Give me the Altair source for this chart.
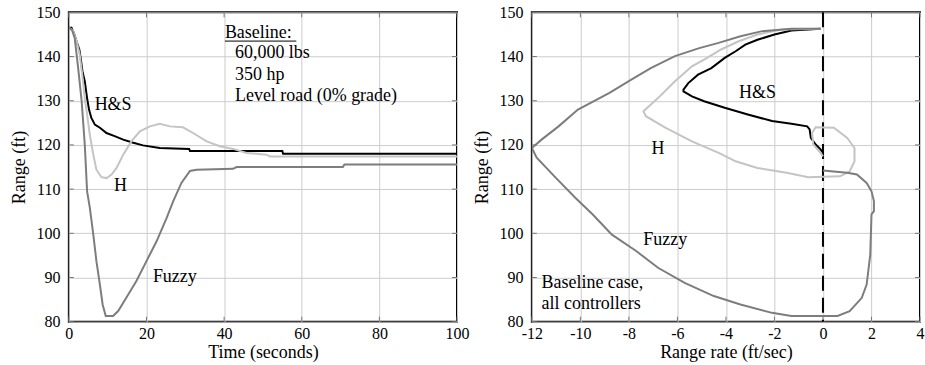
import altair as alt
import pandas as pd

# ---------------- Left panel: Range vs Time ----------------
hs_t = [0, 0.7, 1.3, 2.0, 2.7, 3.1, 3.5, 4.1, 4.7, 5.2, 5.8, 6.7, 8.0, 9.7, 11.8, 14.0, 16.6, 19.1, 23.4, 31.0, 31.2, 42.3, 55.0, 55.2, 100]
hs_r = [146.5, 146.5, 145.3, 143.4, 141.6, 139.3, 136.7, 134.4, 130.6, 128.0, 126.1, 124.6, 123.9, 122.7, 122.0, 121.2, 120.5, 119.9, 119.3, 119.1, 118.6, 118.6, 118.6, 118.0, 118.0]

h_t = [0, 1.0, 2.0, 2.8, 3.5, 4.1, 4.7, 5.4, 6.3, 7.1, 8.4, 9.7, 11.0, 12.3, 14.0, 16.1, 18.3, 20.9, 23.4, 26.0, 29.4, 32.0, 35.5, 38.9, 42.3, 45.8, 50.9, 51.8, 100]
h_r = [146.5, 146.0, 143.5, 140.4, 135.5, 130.6, 126.9, 122.3, 117.8, 114.4, 112.7, 112.5, 113.3, 114.8, 117.8, 120.8, 123.1, 124.2, 124.8, 124.2, 124.0, 122.7, 120.8, 119.7, 119.1, 118.2, 117.8, 117.4, 117.4]

fz_t = [0, 0.8, 1.5, 2.4, 3.3, 4.1, 4.7, 5.4, 6.3, 7.1, 8.0, 8.7, 9.5, 11.4, 12.7, 14.8, 17.4, 20.0, 22.6, 25.2, 26.9, 29.0, 31.2, 32.9, 42.3, 43.2, 70.6, 71.0, 100]
fz_r = [146.5, 146.0, 144.2, 137.4, 129.9, 120.1, 109.5, 105.8, 99.7, 93.7, 88.4, 83.9, 81.3, 81.3, 82.4, 85.4, 89.2, 93.7, 98.2, 103.5, 107.3, 111.4, 114.1, 114.4, 114.6, 115.0, 115.0, 115.6, 115.6]

# ---------------- Right panel: Range vs Range rate ----------------
hs_rr = [-0.1, -1.3, -2.0, -2.7, -3.2, -3.6, -4.05, -4.6, -5.15, -5.55, -5.75, -5.75, -5.4, -4.9, -4.05, -3.1, -2.1, -1.3, -0.65, -0.55, -0.5, -0.3, -0.1, 0.0]
hs_rg = [146.3, 145.9, 145.0, 143.8, 142.7, 141.2, 139.7, 137.4, 135.9, 134.0, 132.5, 132.1, 131.0, 129.9, 128.4, 126.9, 125.4, 124.8, 124.2, 123.5, 121.6, 120.1, 119.0, 118.2]

h_rr = [-0.1, -1.7, -2.7, -3.5, -4.2, -4.9, -5.4, -6.1, -6.8, -7.4, -7.3, -6.5, -5.4, -4.3, -3.6, -2.7, -1.5, -0.6, 0.7, 1.1, 1.3, 1.3, 1.0, 0.45, -0.3, -0.45, -0.4, -0.1, 0.0]
h_rg = [146.3, 146.1, 145.0, 143.4, 141.6, 139.3, 137.8, 134.4, 130.6, 127.6, 126.5, 123.9, 120.8, 118.2, 116.3, 114.8, 113.7, 112.7, 112.9, 114.0, 116.3, 119.3, 121.6, 123.9, 124.0, 122.7, 120.1, 118.2, 117.4]

fz_rr = [-0.1, -1.3, -2.55, -3.4, -4.3, -5.1, -6.1, -7.1, -7.9, -8.8, -10.1, -10.9, -11.6, -12.0, -11.8, -11.0, -10.2, -9.5, -8.7, -7.7, -6.8, -5.7, -4.5, -3.4, -2.1, -1.3, 0.6, 1.1, 1.6, 1.8, 1.95, 2.0, 2.1, 2.1, 2.0, 1.8, 1.4, 1.0, 0.0]
fz_rg = [146.3, 146.3, 145.7, 144.6, 143.1, 141.9, 140.1, 137.4, 134.8, 131.8, 128.0, 124.2, 121.2, 119.3, 117.1, 112.5, 108.0, 104.3, 99.7, 96.0, 92.2, 88.8, 85.8, 83.9, 82.0, 81.3, 81.3, 82.4, 85.4, 88.4, 95.2, 104.3, 105.0, 107.3, 109.5, 111.4, 113.3, 113.7, 114.2]

# ---------------- Labels ----------------
left_lab_text = ["H&S", "H", "Fuzzy"]
left_lab_x = [11.4, 13.3, 27.3]
left_lab_y = [129.1, 110.7, 90.1]

note_text = ["Baseline:", "60,000 lbs", "350 hp", "Level road (0% grade)"]
note_x = [40.2, 42.8, 42.8, 42.8]
note_y = [145.3, 140.8, 135.9, 131.0]
underline_x = [40.2]
underline_x2 = [58.6]
underline_y = [143.5]

right_lab_text = ["H&S", "H", "Fuzzy"]
right_lab_x = [-2.7, -6.8, -6.5]
right_lab_y = [131.8, 119.1, 98.4]

right_note_text = ["Baseline case,", "all controllers"]
right_note_x = [-11.6, -11.6]
right_note_y = [88.8, 83.9]

zero_line_x = [0]

t_ticks = [0, 20, 40, 60, 80, 100]
rr_ticks = [-12, -10, -8, -6, -4, -2, 0, 2, 4]
r_ticks = [80, 90, 100, 110, 120, 130, 140, 150]

series_names = ["H&S", "H", "Fuzzy"]
series_colors = ["#000000", "#c4c4c4", "#7d7d7d"]

FONT = "Liberation Serif"
W, H = 389, 310


def series_df(xs_list, ys_list):
    rows = []
    for name, xs, ys in zip(series_names, xs_list, ys_list):
        for i, (a, b) in enumerate(zip(xs, ys)):
            rows.append({"x": a, "y": b, "s": name, "i": i})
    return pd.DataFrame(rows)


left_df = series_df([hs_t, h_t, fz_t], [hs_r, h_r, fz_r])
right_df = series_df([hs_rr, h_rr, fz_rr], [hs_rg, h_rg, fz_rg])

axis_common = dict(labelFont=FONT, titleFont=FONT, labelFontSize=16, titleFontSize=18,
                   labelColor="black", titleColor="black", titleFontWeight="normal",
                   labelFlush=False, ticks=False, domain=False,
                   gridColor="#cccccc", gridWidth=1)


def panel(df, xdom, xticks, xtitle, labels_df, notes_df, extra_layers):
    xs = alt.Scale(domain=xdom, nice=False, zero=False)
    ys = alt.Scale(domain=[80, 150], nice=False, zero=False)
    xaxis = alt.Axis(values=xticks, title=xtitle, labelExpr="datum.value",
                     labelPadding=4, titlePadding=2, **axis_common)
    yaxis = alt.Axis(values=r_ticks, title="Range (ft)",
                     labelPadding=9, titlePadding=7, **axis_common)
    lines = alt.Chart(df).mark_line(strokeWidth=2, clip=True).encode(
        x=alt.X("x:Q", scale=xs, axis=xaxis),
        y=alt.Y("y:Q", scale=ys, axis=yaxis),
        color=alt.Color("s:N", scale=alt.Scale(domain=series_names, range=series_colors), legend=None),
        order=alt.Order("i:Q"),
        detail="s:N",
    )
    # inward tick marks on all four sides
    ydf = pd.DataFrame({"v": r_ticks})
    xdf = pd.DataFrame({"v": xticks})
    tick_style = dict(color="#777777", strokeWidth=1)
    tl = alt.Chart(ydf).mark_rule(**tick_style).encode(y=alt.Y("v:Q", scale=ys), x=alt.value(0), x2=alt.value(5))
    tr = alt.Chart(ydf).mark_rule(**tick_style).encode(y=alt.Y("v:Q", scale=ys), x=alt.value(W - 5), x2=alt.value(W))
    tt = alt.Chart(xdf).mark_rule(**tick_style).encode(x=alt.X("v:Q", scale=xs), y=alt.value(0), y2=alt.value(5))
    tb = alt.Chart(xdf).mark_rule(**tick_style).encode(x=alt.X("v:Q", scale=xs), y=alt.value(H - 5), y2=alt.value(H))
    lab = alt.Chart(labels_df).mark_text(font=FONT, fontSize=18, align="center", baseline="middle", color="black").encode(
        x=alt.X("x:Q", scale=xs), y=alt.Y("y:Q", scale=ys), text="t:N")
    notes = alt.Chart(notes_df).mark_text(font=FONT, fontSize=18, align="left", baseline="middle", color="black").encode(
        x=alt.X("x:Q", scale=xs), y=alt.Y("y:Q", scale=ys), text="t:N")
    layers = [tl, tr, tt, tb] + extra_layers(xs, ys) + [lines, lab, notes]
    return alt.layer(*layers).properties(width=W, height=H)


left_labels = pd.DataFrame({"t": left_lab_text, "x": left_lab_x, "y": left_lab_y})
left_notes = pd.DataFrame({"t": note_text, "x": note_x, "y": note_y})
right_labels = pd.DataFrame({"t": right_lab_text, "x": right_lab_x, "y": right_lab_y})
right_notes = pd.DataFrame({"t": right_note_text, "x": right_note_x, "y": right_note_y})


def left_extra(xs, ys):
    ul = pd.DataFrame({"x": underline_x, "x2": underline_x2, "y": underline_y})
    return [alt.Chart(ul).mark_rule(color="black", strokeWidth=1).encode(
        x=alt.X("x:Q", scale=xs), x2="x2:Q", y=alt.Y("y:Q", scale=ys))]


def right_extra(xs, ys):
    z = pd.DataFrame({"x": zero_line_x})
    return [alt.Chart(z).mark_rule(color="black", strokeWidth=2, strokeDash=[15, 7]).encode(
        x=alt.X("x:Q", scale=xs))]


left = panel(left_df, [0, 100], t_ticks, "Time (seconds)", left_labels, left_notes, left_extra)
right = panel(right_df, [-12, 4], rr_ticks, "Range rate (ft/sec)", right_labels, right_notes, right_extra)

chart = alt.hconcat(left, right, spacing=75, bounds="flush").properties(
    padding={"left": 10, "top": 3, "right": 0, "bottom": 0}
).configure(font=FONT).configure_view(
    stroke="black", strokeWidth=2
).configure_axis(
    labelFont=FONT, titleFont=FONT, titleFontWeight="normal"
)

chart.save("out.html", embed_options={"renderer": "svg", "actions": False})
